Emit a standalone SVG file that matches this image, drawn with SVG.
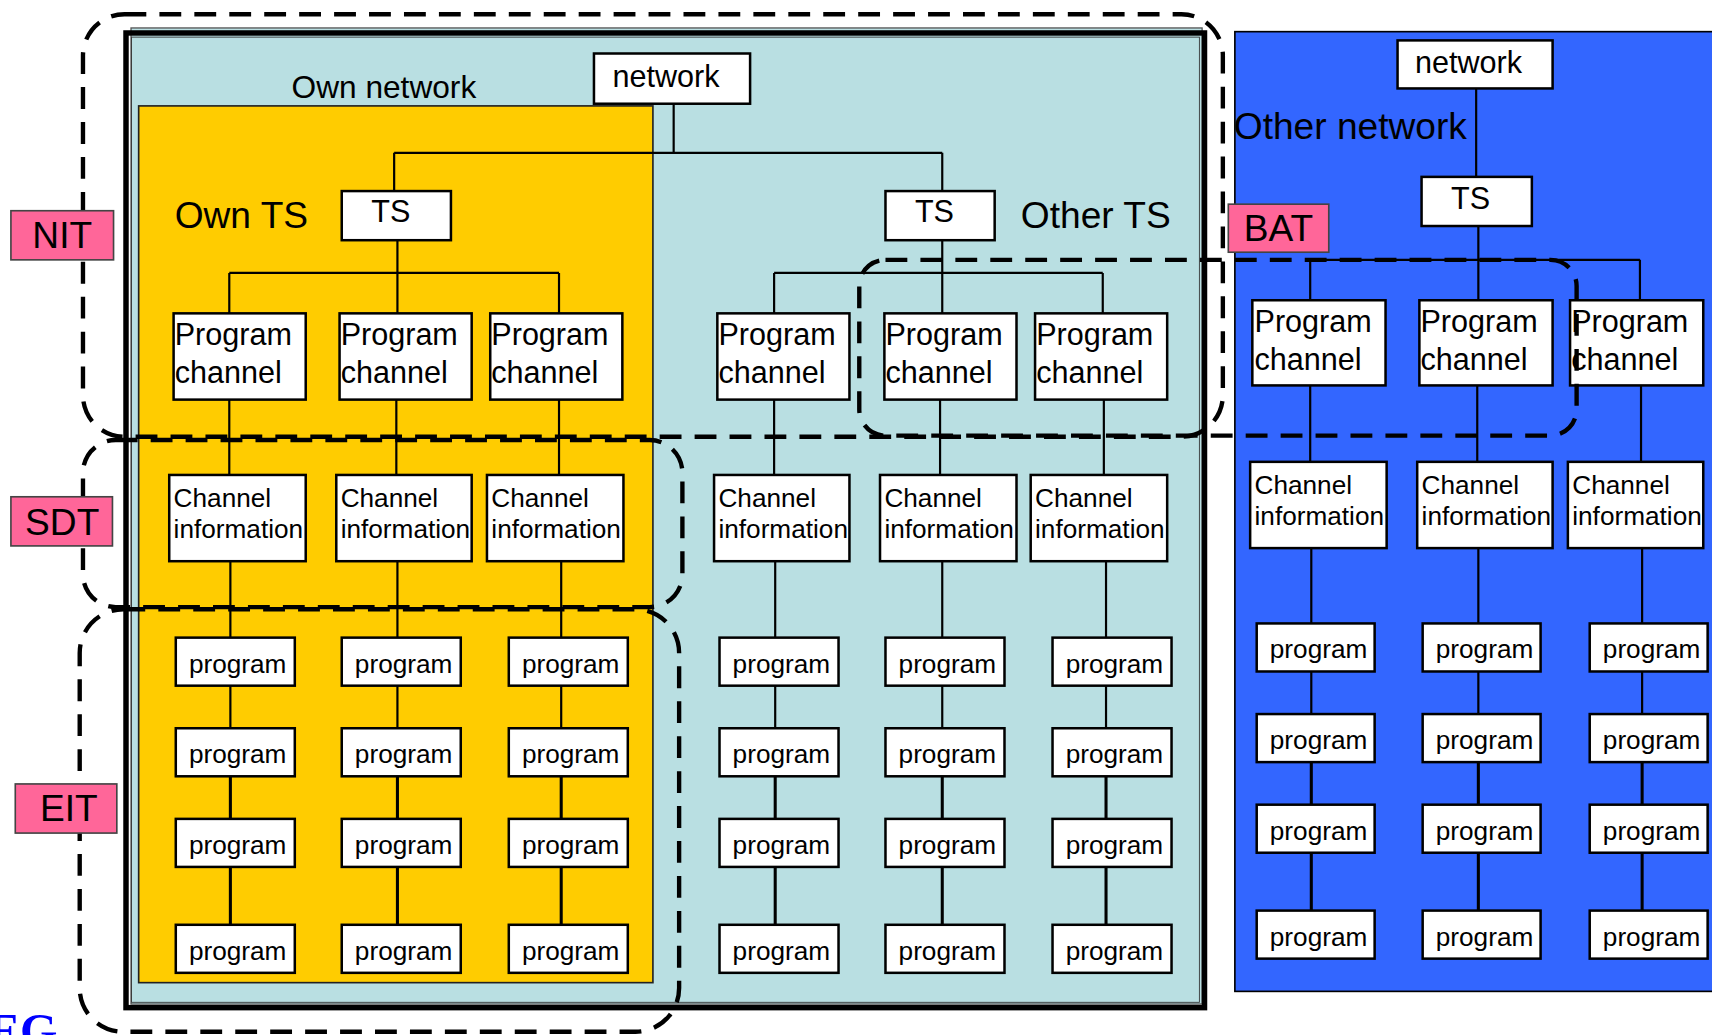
<svg xmlns="http://www.w3.org/2000/svg" width="1712" height="1035" viewBox="0 0 1712 1035">
<style>
.box{fill:#fff;stroke:#000;stroke-width:2.3}
.t{font-family:"Liberation Sans",Arial,Helvetica,sans-serif;fill:#000}
.pc{font-size:28px}
.ci{font-size:24px}
.pg{font-size:24px}
.nw{font-size:28px}
.big{font-size:34px}
.lbl{fill:#ff6699;stroke:#444;stroke-width:1.5}
.dash{fill:none;stroke:#000;stroke-width:4;stroke-dasharray:20 12}
.ln{stroke:#000;stroke-width:2;fill:none}
.ln2{stroke:#000;stroke-width:2.8;fill:none}
</style>
<rect width="1712" height="1035" fill="#fff"/>
<g transform="scale(1.091837)">
<!-- backgrounds -->
<g id="own-network-area">
<rect x="120" y="25.6" width="981" height="894" fill="#b9dfe2" stroke="#555" stroke-width="1.2"/>
<rect x="115.4" y="30.2" width="987.8" height="892.7" fill="none" stroke="#000" stroke-width="5"/>
<rect x="120.5" y="34" width="978" height="884" fill="none" stroke="#333" stroke-width="0.8"/>
<text class="t" x="267" y="90" style="font-size:29px">Own network</text>
</g>
<g id="own-ts-area">
<rect x="127" y="97" width="471" height="803" fill="#ffcc00" stroke="#222" stroke-width="1.5"/>
<text class="t big" x="160" y="209">Own TS</text>
</g>
<g id="other-ts-label"><text class="t big" x="935" y="209">Other TS</text></g>
<g id="other-network-area">
<rect x="1131" y="29" width="460" height="879" fill="#3366ff" stroke="#000" stroke-width="1.5"/>
<text class="t big" x="1130" y="127">Other network</text>
</g>

<!-- connectors -->
<g id="connectors">
<path class="ln" d="M617,95V140M361,140H863M361,140V175M863,140V175"/>
<path class="ln" d="M364,220V287M210,250H512M210,250V287M512,250V287"/>
<path class="ln" d="M863,220V287M709,250H1010M709,250V287M1010,250V287"/>
<path class="ln" d="M1352,81V162M1354,207V275M1200,238H1502M1200,238V275M1502,238V275"/>
<path class="ln" d="M210,366V435M363,366V435M512,366V435M709,366V435M861,366V435M1011,366V435M1200,353V423M1353,353V423M1503,353V423"/>
<path class="ln" d="M211,514V584M364,514V584M514,514V584M710,514V584M863,514V584M1013,514V584M1201,502V571M1354,502V571M1504,502V571"/>
<path class="ln" d="M211,628V667M364,628V667M514,628V667M710,628V667M863,628V667M1013,628V667M1201,615V654M1354,615V654M1504,615V654"/>
<path class="ln2" d="M211,711V750M364,711V750M514,711V750M710,711V750M863,711V750M1013,711V750M1201,698V737M1354,698V737M1504,698V737"/>
<path class="ln2" d="M211,794V847M364,794V847M514,794V847M710,794V847M863,794V847M1013,794V847M1201,781V834M1354,781V834M1504,781V834"/>
</g>

<!-- network / TS nodes -->
<g id="network-own"><rect class="box" x="544" y="49" width="143" height="46"/><text class="t nw" x="561" y="80">network</text></g>
<g id="ts-own"><rect class="box" x="313" y="175" width="100" height="45"/><text class="t nw" x="340" y="203">TS</text></g>
<g id="ts-other"><rect class="box" x="811" y="175" width="100" height="45"/><text class="t nw" x="838" y="203">TS</text></g>
<g id="network-other"><rect class="box" x="1280" y="37" width="142" height="44"/><text class="t nw" x="1296" y="67">network</text></g>
<g id="ts-other-net"><rect class="box" x="1302" y="162" width="101" height="45"/><text class="t nw" x="1329" y="191">TS</text></g>

<!-- program channels -->
<g id="pc-1"><rect class="box" x="159" y="287" width="121" height="79"/><text class="t pc" x="160" y="316">Program</text><text class="t pc" x="160" y="351">channel</text></g>
<g id="pc-2"><rect class="box" x="311" y="287" width="121" height="79"/><text class="t pc" x="312" y="316">Program</text><text class="t pc" x="312" y="351">channel</text></g>
<g id="pc-3"><rect class="box" x="449" y="287" width="121" height="79"/><text class="t pc" x="450" y="316">Program</text><text class="t pc" x="450" y="351">channel</text></g>
<g id="pc-4"><rect class="box" x="657" y="287" width="121" height="79"/><text class="t pc" x="658" y="316">Program</text><text class="t pc" x="658" y="351">channel</text></g>
<g id="pc-5"><rect class="box" x="810" y="287" width="121" height="79"/><text class="t pc" x="811" y="316">Program</text><text class="t pc" x="811" y="351">channel</text></g>
<g id="pc-6"><rect class="box" x="948" y="287" width="121" height="79"/><text class="t pc" x="949" y="316">Program</text><text class="t pc" x="949" y="351">channel</text></g>
<g id="pc-7"><rect class="box" x="1147" y="275" width="122" height="78"/><text class="t pc" x="1149" y="304">Program</text><text class="t pc" x="1149" y="339">channel</text></g>
<g id="pc-8"><rect class="box" x="1300" y="275" width="122" height="78"/><text class="t pc" x="1301" y="304">Program</text><text class="t pc" x="1301" y="339">channel</text></g>
<g id="pc-9"><rect class="box" x="1438" y="275" width="122" height="78"/><text class="t pc" x="1439" y="304">Program</text><text class="t pc" x="1439" y="339">channel</text></g>

<!-- channel information -->
<g id="ci-1"><rect class="box" x="155" y="435" width="125" height="79"/><text class="t ci" x="159" y="464">Channel</text><text class="t ci" x="159" y="493">information</text></g>
<g id="ci-2"><rect class="box" x="308" y="435" width="124" height="79"/><text class="t ci" x="312" y="464">Channel</text><text class="t ci" x="312" y="493">information</text></g>
<g id="ci-3"><rect class="box" x="446" y="435" width="125" height="79"/><text class="t ci" x="450" y="464">Channel</text><text class="t ci" x="450" y="493">information</text></g>
<g id="ci-4"><rect class="box" x="654" y="435" width="124" height="79"/><text class="t ci" x="658" y="464">Channel</text><text class="t ci" x="658" y="493">information</text></g>
<g id="ci-5"><rect class="box" x="806" y="435" width="125" height="79"/><text class="t ci" x="810" y="464">Channel</text><text class="t ci" x="810" y="493">information</text></g>
<g id="ci-6"><rect class="box" x="944" y="435" width="125" height="79"/><text class="t ci" x="948" y="464">Channel</text><text class="t ci" x="948" y="493">information</text></g>
<g id="ci-7"><rect class="box" x="1145" y="423" width="125" height="79"/><text class="t ci" x="1149" y="452">Channel</text><text class="t ci" x="1149" y="481">information</text></g>
<g id="ci-8"><rect class="box" x="1298" y="423" width="124" height="79"/><text class="t ci" x="1302" y="452">Channel</text><text class="t ci" x="1302" y="481">information</text></g>
<g id="ci-9"><rect class="box" x="1436" y="423" width="124" height="79"/><text class="t ci" x="1440" y="452">Channel</text><text class="t ci" x="1440" y="481">information</text></g>

<!-- programs: own TS -->
<g id="p-1-1"><rect class="box" x="161" y="584" width="109" height="44"/><text class="t pg" x="173" y="616">program</text></g>
<g id="p-1-2"><rect class="box" x="161" y="667" width="109" height="44"/><text class="t pg" x="173" y="699">program</text></g>
<g id="p-1-3"><rect class="box" x="161" y="750" width="109" height="44"/><text class="t pg" x="173" y="782">program</text></g>
<g id="p-1-4"><rect class="box" x="161" y="847" width="109" height="44"/><text class="t pg" x="173" y="879">program</text></g>
<g id="p-2-1"><rect class="box" x="313" y="584" width="109" height="44"/><text class="t pg" x="325" y="616">program</text></g>
<g id="p-2-2"><rect class="box" x="313" y="667" width="109" height="44"/><text class="t pg" x="325" y="699">program</text></g>
<g id="p-2-3"><rect class="box" x="313" y="750" width="109" height="44"/><text class="t pg" x="325" y="782">program</text></g>
<g id="p-2-4"><rect class="box" x="313" y="847" width="109" height="44"/><text class="t pg" x="325" y="879">program</text></g>
<g id="p-3-1"><rect class="box" x="466" y="584" width="109" height="44"/><text class="t pg" x="478" y="616">program</text></g>
<g id="p-3-2"><rect class="box" x="466" y="667" width="109" height="44"/><text class="t pg" x="478" y="699">program</text></g>
<g id="p-3-3"><rect class="box" x="466" y="750" width="109" height="44"/><text class="t pg" x="478" y="782">program</text></g>
<g id="p-3-4"><rect class="box" x="466" y="847" width="109" height="44"/><text class="t pg" x="478" y="879">program</text></g>
<!-- programs: other TS -->
<g id="p-4-1"><rect class="box" x="659" y="584" width="109" height="44"/><text class="t pg" x="671" y="616">program</text></g>
<g id="p-4-2"><rect class="box" x="659" y="667" width="109" height="44"/><text class="t pg" x="671" y="699">program</text></g>
<g id="p-4-3"><rect class="box" x="659" y="750" width="109" height="44"/><text class="t pg" x="671" y="782">program</text></g>
<g id="p-4-4"><rect class="box" x="659" y="847" width="109" height="44"/><text class="t pg" x="671" y="879">program</text></g>
<g id="p-5-1"><rect class="box" x="811" y="584" width="109" height="44"/><text class="t pg" x="823" y="616">program</text></g>
<g id="p-5-2"><rect class="box" x="811" y="667" width="109" height="44"/><text class="t pg" x="823" y="699">program</text></g>
<g id="p-5-3"><rect class="box" x="811" y="750" width="109" height="44"/><text class="t pg" x="823" y="782">program</text></g>
<g id="p-5-4"><rect class="box" x="811" y="847" width="109" height="44"/><text class="t pg" x="823" y="879">program</text></g>
<g id="p-6-1"><rect class="box" x="964" y="584" width="109" height="44"/><text class="t pg" x="976" y="616">program</text></g>
<g id="p-6-2"><rect class="box" x="964" y="667" width="109" height="44"/><text class="t pg" x="976" y="699">program</text></g>
<g id="p-6-3"><rect class="box" x="964" y="750" width="109" height="44"/><text class="t pg" x="976" y="782">program</text></g>
<g id="p-6-4"><rect class="box" x="964" y="847" width="109" height="44"/><text class="t pg" x="976" y="879">program</text></g>
<!-- programs: other network -->
<g id="p-7-1"><rect class="box" x="1151" y="571" width="108" height="44"/><text class="t pg" x="1163" y="603">program</text></g>
<g id="p-7-2"><rect class="box" x="1151" y="654" width="108" height="44"/><text class="t pg" x="1163" y="686">program</text></g>
<g id="p-7-3"><rect class="box" x="1151" y="737" width="108" height="44"/><text class="t pg" x="1163" y="769">program</text></g>
<g id="p-7-4"><rect class="box" x="1151" y="834" width="108" height="44"/><text class="t pg" x="1163" y="866">program</text></g>
<g id="p-8-1"><rect class="box" x="1303" y="571" width="108" height="44"/><text class="t pg" x="1315" y="603">program</text></g>
<g id="p-8-2"><rect class="box" x="1303" y="654" width="108" height="44"/><text class="t pg" x="1315" y="686">program</text></g>
<g id="p-8-3"><rect class="box" x="1303" y="737" width="108" height="44"/><text class="t pg" x="1315" y="769">program</text></g>
<g id="p-8-4"><rect class="box" x="1303" y="834" width="108" height="44"/><text class="t pg" x="1315" y="866">program</text></g>
<g id="p-9-1"><rect class="box" x="1456" y="571" width="108" height="44"/><text class="t pg" x="1468" y="603">program</text></g>
<g id="p-9-2"><rect class="box" x="1456" y="654" width="108" height="44"/><text class="t pg" x="1468" y="686">program</text></g>
<g id="p-9-3"><rect class="box" x="1456" y="737" width="108" height="44"/><text class="t pg" x="1468" y="769">program</text></g>
<g id="p-9-4"><rect class="box" x="1456" y="834" width="108" height="44"/><text class="t pg" x="1468" y="866">program</text></g>

<!-- dashed table scopes -->
<g id="scopes">
<rect class="dash" x="76" y="13" width="1044" height="387" rx="38"/>
<rect class="dash" x="76" y="403" width="549" height="153" rx="30"/>
<rect class="dash" x="73" y="558" width="549" height="387" rx="40"/>
<rect class="dash" x="787" y="238" width="657" height="161" rx="24"/>
</g>

<!-- table labels -->
<g id="NIT"><rect class="lbl" x="10" y="193" width="94" height="45"/><text class="t big" x="57" y="227" text-anchor="middle">NIT</text></g>
<g id="SDT"><rect class="lbl" x="10" y="455" width="93" height="45"/><text class="t big" x="57" y="490" text-anchor="middle">SDT</text></g>
<g id="EIT"><rect class="lbl" x="14" y="718" width="93" height="45"/><text class="t big" x="63" y="752" text-anchor="middle">EIT</text></g>
<g id="BAT"><rect class="lbl" x="1125" y="187" width="92" height="44"/><text class="t big" x="1171" y="221" text-anchor="middle">BAT</text></g>

<text x="-11" y="959" style="font-family:'Liberation Serif',serif;font-weight:bold;font-size:44px;fill:#0000ff">EG</text>
</g>
</svg>
